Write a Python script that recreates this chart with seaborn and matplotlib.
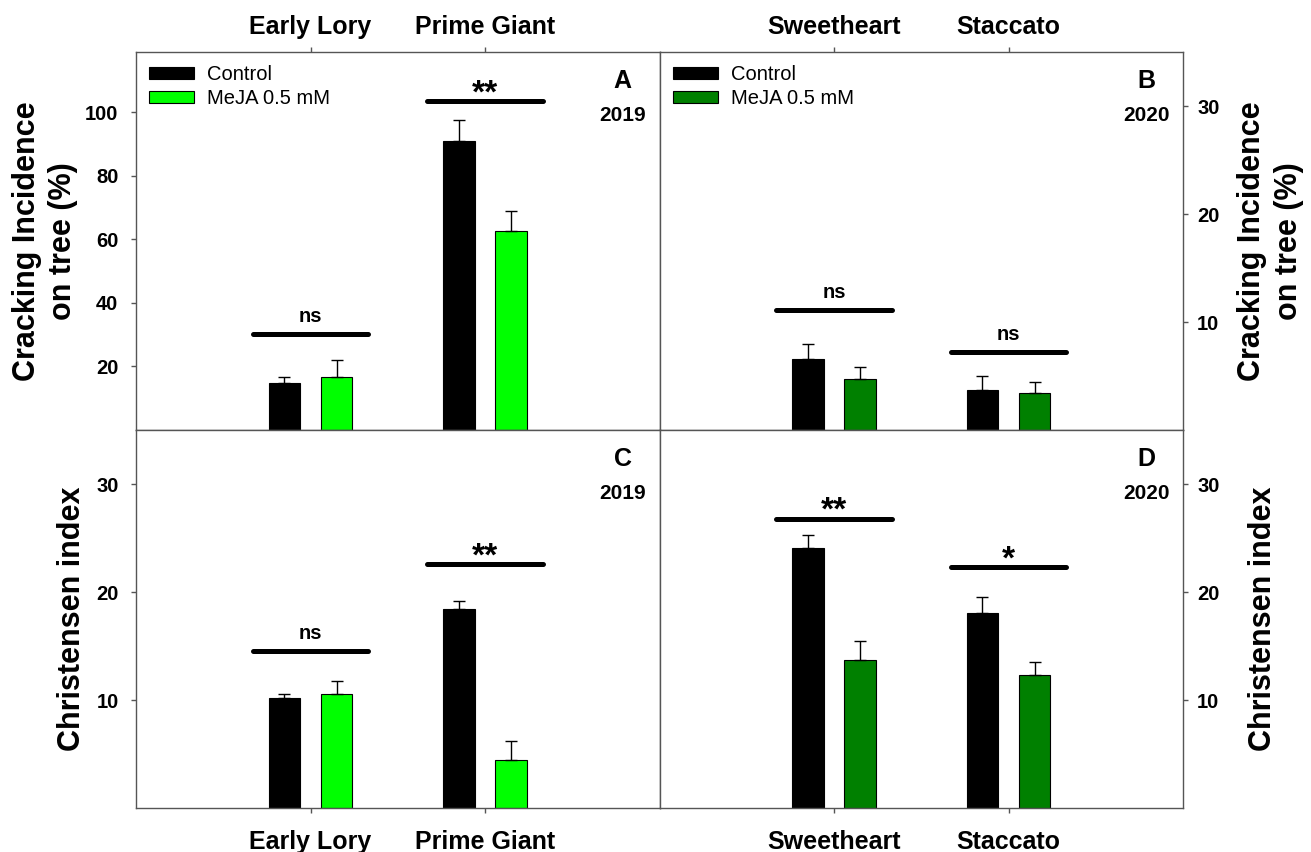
# cracking incidence / Christensen index, 2019 vs 2020 (4 panels)
import numpy as np
import pandas as pd
import matplotlib
matplotlib.use('Agg')
import matplotlib.pyplot as plt
import seaborn as sns

sns.set_style('ticks')
plt.rcParams['font.family'] = ['Liberation Sans', 'DejaVu Sans']
plt.rcParams['font.weight'] = 'bold'
plt.rcParams['axes.labelweight'] = 'bold'
plt.rcParams['text.color'] = 'black'
plt.rcParams['axes.labelcolor'] = 'black'
plt.rcParams['xtick.labelcolor'] = 'black'
plt.rcParams['ytick.labelcolor'] = 'black'

# --- datos ---
treatments = ['Control', 'MeJA 0.5 mM']
cult_2019 = ['Early Lory', 'Prime Giant']
cult_2020 = ['Sweetheart', 'Staccato']

# A: cracking 2019
a_ctrl = [14.8, 91.1]
a_ctrl_err = [1.8, 6.6]
a_meja = [16.8, 62.7]
a_meja_err = [5.3, 6.4]
a_sig_y = [30.3, 103.6]
a_sig = ['ns', '**']

# B: cracking 2020
b_ctrl = [6.6, 3.7]
b_ctrl_err = [1.4, 1.3]
b_meja = [4.7, 3.45]
b_meja_err = [1.1, 0.95]
b_sig_y = [11.1, 7.2]
b_sig = ['ns', 'ns']

# C: Christensen 2019
c_ctrl = [10.2, 18.4]
c_ctrl_err = [0.4, 0.8]
c_meja = [10.6, 4.4]
c_meja_err = [1.2, 1.8]
c_sig_y = [14.5, 22.6]
c_sig = ['ns', '**']

# D: Christensen 2020
d_ctrl = [24.1, 18.1]
d_ctrl_err = [1.2, 1.4]
d_meja = [13.7, 12.3]
d_meja_err = [1.8, 1.2]
d_sig_y = [26.8, 22.3]
d_sig = ['**', '*']

LIME = '#00FF00'
DGREEN = '#008000'
SPINE = '#555555'
YLAB_CRACK = 'Cracking Incidence\non tree (%)'
YLAB_CHRIS = 'Christensen index'


def panel(ax, cultivars, ctrl, ctrl_err, meja, meja_err, sig_y, sig, color,
          letter, year, legend):
    df = pd.DataFrame({
        'cultivar': cultivars * 2,
        'treatment': [treatments[0]] * 2 + [treatments[1]] * 2,
        'value': ctrl + meja,
    })
    sns.barplot(data=df, x='cultivar', y='value', hue='treatment',
                order=cultivars, hue_order=treatments,
                palette=['black', color], saturation=1, width=0.6, gap=0.4,
                edgecolor='black', linewidth=0.8, errorbar=None,
                legend=legend, ax=ax)
    # barras de error solo hacia arriba
    for cont, err in zip(ax.containers, [ctrl_err, meja_err]):
        xs = [p.get_x() + p.get_width() / 2 for p in cont]
        ys = [p.get_height() for p in cont]
        ax.errorbar(xs, ys, yerr=[np.zeros(len(err)), err], fmt='none',
                    ecolor='black', elinewidth=1, capsize=4.3, capthick=1,
                    zorder=3)
    # líneas de significancia
    for i, (y, lbl) in enumerate(zip(sig_y, sig)):
        ax.plot([i - 0.33, i + 0.33], [y, y], color='black', lw=3.6,
                solid_capstyle='round', zorder=4)
        if lbl.startswith('*'):
            ax.annotate(lbl, (i, y), xytext=(0, -1.0), textcoords='offset points',
                        ha='center', va='baseline', fontsize=24)
        else:
            ax.annotate(lbl, (i, y), xytext=(0, 8.6), textcoords='offset points',
                        ha='center', va='baseline', fontsize=14.5)
    ax.text(0.93, 0.922, letter, transform=ax.transAxes, ha='center',
            va='center', fontsize=18)
    ax.text(0.93, 0.833, year, transform=ax.transAxes, ha='center',
            va='center', fontsize=15)
    ax.set_xlim(-1, 2)
    ax.set_xlabel('')
    for s in ax.spines.values():
        s.set_visible(True)
        s.set_color(SPINE)
        s.set_linewidth(1)
    ax.tick_params(length=3.6, width=1, color=SPINE)
    ax.tick_params(axis='y', labelsize=14.5)
    ax.tick_params(axis='x', labelsize=18)
    if legend:
        sns.move_legend(ax, 'upper left', bbox_to_anchor=(0.0, 1.0),
                        frameon=False, title=None,
                        prop={'family': ['Liberation Sans'], 'weight': 'normal',
                              'size': 14.5},
                        handlelength=2.25, handleheight=0.55,
                        handletextpad=0.65, labelspacing=0.25,
                        borderaxespad=0.25, borderpad=0.4)


fig = plt.figure(figsize=(13.11, 8.52), dpi=100)
axes = fig.subplots(2, 2)
fig.subplots_adjust(left=136 / 1311, right=1183 / 1311, top=1 - 52 / 852,
                    bottom=1 - 808 / 852, wspace=0, hspace=0)
axA, axB = axes[0]
axC, axD = axes[1]

panel(axA, cult_2019, a_ctrl, a_ctrl_err, a_meja, a_meja_err, a_sig_y, a_sig,
      LIME, 'A', '2019', True)
panel(axB, cult_2020, b_ctrl, b_ctrl_err, b_meja, b_meja_err, b_sig_y, b_sig,
      DGREEN, 'B', '2020', True)
panel(axC, cult_2019, c_ctrl, c_ctrl_err, c_meja, c_meja_err, c_sig_y, c_sig,
      LIME, 'C', '2019', False)
panel(axD, cult_2020, d_ctrl, d_ctrl_err, d_meja, d_meja_err, d_sig_y, d_sig,
      DGREEN, 'D', '2020', False)

# ejes Y
axA.set_ylim(0, 119)
axA.set_yticks([20, 40, 60, 80, 100])
for ax in (axB, axC, axD):
    ax.set_ylim(0, 35)
    ax.set_yticks([10, 20, 30])

for ax in (axA, axC):
    ax.tick_params(axis='y', left=True, right=False, labelleft=True,
                   labelright=False, pad=9)
for ax in (axB, axD):
    ax.yaxis.tick_right()
    ax.yaxis.set_label_position('right')
    ax.tick_params(axis='y', left=False, right=True, labelleft=False,
                   labelright=True, pad=6.5)

# ejes X: arriba en la fila superior, abajo en la inferior
for ax in (axA, axB):
    ax.xaxis.tick_top()
    ax.tick_params(axis='x', top=True, bottom=False, labeltop=True,
                   labelbottom=False, pad=5.8)
for ax in (axC, axD):
    ax.tick_params(axis='x', top=False, bottom=True, labeltop=False,
                   labelbottom=True, pad=12)

axA.set_ylabel(YLAB_CRACK, fontsize=22, linespacing=1.3)
axA.yaxis.set_label_coords(-0.110, 0.5)
axB.set_ylabel(YLAB_CRACK, fontsize=22, linespacing=1.3)
axB.yaxis.set_label_coords(1.104, 0.5)
axC.set_ylabel(YLAB_CHRIS, fontsize=22)
axC.yaxis.set_label_coords(-0.094, 0.5)
axD.set_ylabel(YLAB_CHRIS, fontsize=22)
axD.yaxis.set_label_coords(1.124, 0.5)

fig.savefig('out.png', dpi=100)
